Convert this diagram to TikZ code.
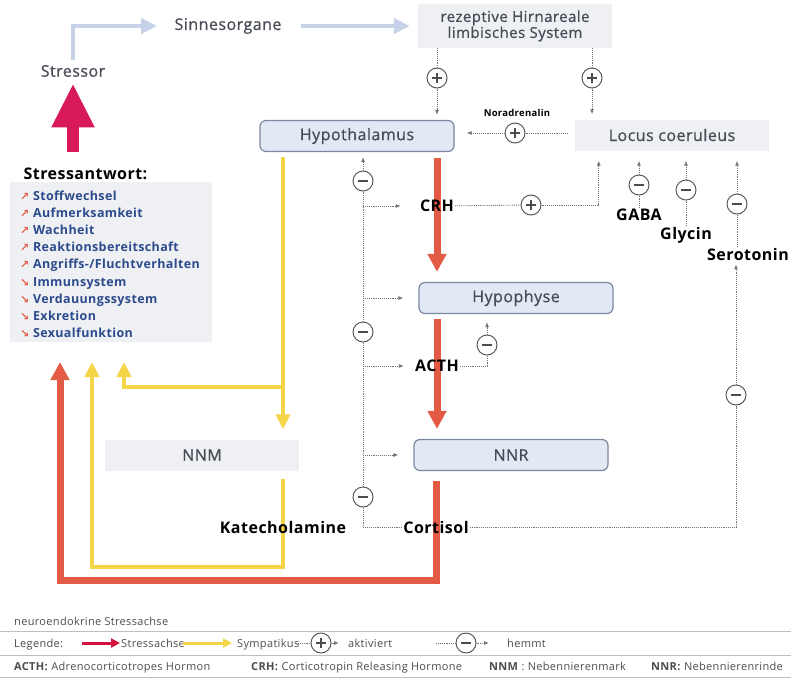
\documentclass[tikz,border=0pt]{standalone}
\usepackage{fontspec}
\setmainfont{Open Sans}[LetterSpace=3]
\newfontfamily\medfont{Open Sans}[LetterSpace=3,FakeBold=0.8]
\newfontfamily\symfont{DejaVu Sans}
\usetikzlibrary{positioning,arrows.meta,calc}

\definecolor{axisred}{HTML}{E35B45}
\definecolor{legendred}{HTML}{D3123E}
\definecolor{sympyellow}{HTML}{F5D548}
\definecolor{stressmag}{HTML}{D81A5C}
\definecolor{senseblue}{HTML}{C6D1E7}
\definecolor{boxblue}{HTML}{E3E9F4}
\definecolor{boxline}{HTML}{7A879E}
\definecolor{areagray}{HTML}{EFF0F4}
\definecolor{listblue}{HTML}{2C4B8C}
\definecolor{txtgray}{HTML}{474C56}

\newcommand{\riseicon}{{\symfont\bfseries\color{axisred}\fontsize{11}{11}\selectfont ↗}}
\newcommand{\fallicon}{{\symfont\bfseries\color{axisred}\fontsize{11}{11}\selectfont ↘}}

\tikzstyle{organ}=[draw=boxline,fill=boxblue,rounded corners=6pt,line width=1.2pt,minimum width=194pt,minimum height=31pt,text=txtgray,font=\medfont\fontsize{16}{18}\selectfont]
\tikzstyle{area}=[fill=areagray,minimum width=194pt,minimum height=31pt,text=txtgray,font=\medfont\fontsize{16}{18}\selectfont]
\tikzstyle{plain}=[text=txtgray,font=\medfont\fontsize{16}{18}\selectfont]
\tikzstyle{hormone}=[font=\bfseries\fontsize{16}{18}\selectfont,inner sep=1pt]
\tikzstyle{effect}=[anchor=base west,text=listblue,font=\bfseries\fontsize{12.5}{14}\selectfont,inner sep=0pt]
\tikzstyle{legend}=[anchor=base west,text=black!70,font=\fontsize{11}{13}\selectfont,inner sep=0pt]
\tikzstyle{sign}=[circle,draw=black!65,line width=1pt,fill=white,minimum size=20pt,inner sep=0pt]
\tikzstyle{plus}=[sign,path picture={\draw[line width=1.4pt,black!70] (path picture bounding box.center) +(-5pt,0) -- +(5pt,0) +(0,-5pt) -- +(0,5pt);}]
\tikzstyle{minus}=[sign,path picture={\draw[line width=1.6pt,black!70] (path picture bounding box.center) +(-5pt,0) -- +(5pt,0);}]
\tikzstyle{dot}=[draw=black!55,densely dotted,line width=0.9pt]
\tikzstyle{dotarrow}=[dot,-{Latex[length=5pt,width=4pt]}]
\tikzstyle{axis}=[draw=axisred,line width=7pt,-{Triangle[length=18pt,width=18pt]}]
\tikzstyle{symp}=[draw=sympyellow,line width=4.5pt,-{Triangle[length=15pt,width=14pt]}]
\tikzstyle{sense}=[draw=senseblue,line width=4.5pt,-{Triangle[length=16pt,width=15pt]}]
\tikzstyle{stress}=[draw=stressmag,line width=12pt,-{Triangle[length=44pt,width=40pt]}]

\pgfdeclarelayer{background}
\pgfsetlayers{background,main}

\begin{document}
\begin{tikzpicture}[x=1pt,y=-1pt]
  \useasboundingbox (0,0) rectangle (791,680);

  % Sinnesbahn
  \node[plain] (stressor) at (73,71) {Stressor};
  \node[plain] (sinne) at (228,26) {Sinnesorgane};
  \node[area,minimum height=44pt,align=center,font=\medfont\fontsize{15}{16}\selectfont] (rez) at (515,26) {rezeptive Hirnareale\\limbisches System};

  % Organe
  \foreach \pos / \name / \txt in {{(357,136)/hypo/Hypothalamus}, {(516,298)/hyp/Hypophyse}, {(511,455)/nnr/NNR}}
    \node[organ] (\name) at \pos {\txt};
  \node[area] (locus) at (672,135) {Locus coeruleus};
  \node[area] (nnm) at (202,455) {NNM};

  % Botenstoffe
  \foreach \pos / \name / \txt in {{(437,206)/crh/CRH}, {(437,366)/acth/ACTH}, {(436,527)/cort/Cortisol},
                                   {(283,527)/kat/Katecholamine}, {(639,215)/gaba/GABA},
                                   {(686,235)/glyc/Glycin}, {(748,254)/sero/Serotonin}}
    \node[hormone] (\name) at \pos {\txt};
  \node[hormone,font=\bfseries\fontsize{9.5}{11}\selectfont] (nora) at (517,113) {Noradrenalin};

  % aktivierend / hemmend
  \foreach \pos / \name in {{(437,78)/pa}, {(592,78)/pb}, {(515,133)/pn}, {(531,205)/pc}}
    \node[plus] (\name) at \pos {};
  \foreach \pos / \name in {{(363,181)/mh}, {(363,332)/mm}, {(363,497)/mb}, {(487,345)/ma},
                            {(639,185)/mg}, {(686,190)/my}, {(737,204)/ms}, {(736,395)/mc}}
    \node[minus] (\name) at \pos {};

  % Stressantwort
  \node[anchor=west,font=\bfseries\fontsize{16}{18}\selectfont] (sahead) at (20,174) {Stressantwort:};
  \node[area,minimum width=202pt,minimum height=160pt] (antwort) at (111,262) {};
  \foreach \txt [count=\i from 0] in {Stoffwechsel, Aufmerksamkeit, Wachheit, Reaktionsbereitschaft, Angriffs-/Fluchtverhalten}
    \node[effect] (up\i) at (20,{200.5+17.1*\i}) {\riseicon\ \txt};
  \foreach \txt [count=\i from 5] in {Immunsystem, Verdauungssystem, Exkretion, Sexualfunktion}
    \node[effect] (dn\i) at (20,{200.5+17.1*\i}) {\fallicon\ \txt};
  \coordinate (in1) at (60,362);
  \coordinate (in2) at (92,362);
  \coordinate (in3) at (124,362);

  % Achsen
  \begin{pgfonlayer}{background}
    \draw[sense,shorten <=2pt,shorten >=14pt] (stressor.north) |- (sinne.west);
    \draw[sense,shorten <=16pt,shorten >=8pt] (sinne.east) -- (rez.west);
    \draw[stress,shorten <=13pt,shorten >=3pt] (stressor |- sahead.north) -- (stressor.south);
    \draw[axis,shorten <=6pt,shorten >=10pt] (crh |- hypo.south) -- (crh |- hyp.north);
    \draw[axis,shorten <=5pt,shorten >=10pt] (acth |- hyp.south) -- (acth |- nnr.north);
    \draw[axis,shorten <=10pt] (cort |- nnr.south) -- (cort |- 0,580) -| (in1);
    \draw[symp,shorten <=5pt,shorten >=10pt] (kat |- hypo.south) -- (kat |- nnm.north);
    \draw[symp] (kat |- 0,387) -| (in3);
    \draw[symp,shorten <=8pt] (kat |- nnm.south) -- (kat |- 0,567) -| (in2);
  \end{pgfonlayer}

  % Verbindungen oben
  \draw[dot] (rez.south -| pa) -- (pa);
  \draw[dotarrow,shorten >=5pt] (pa) -- (pa |- hypo.north);
  \draw[dot] (rez.south -| pb) -- (pb);
  \draw[dotarrow,shorten >=5pt] (pb) -- (pb |- locus.north);
  \draw[dot,shorten <=7pt] (pn -| locus.west) -- (pn);
  \draw[dotarrow,shorten >=12pt] (pn) -- (pn -| hypo.east);
  \draw[dot] (crh) -- (pc);
  \draw[dotarrow,shorten >=10pt] (pc) -| ([xshift=24pt]locus.south west);
  \draw[dot] (gaba) -- (mg);
  \draw[dotarrow,shorten >=10pt] (mg) -- (mg |- locus.south);
  \draw[dot] (glyc) -- (my);
  \draw[dotarrow,shorten >=10pt] (my) -- (my |- locus.south);
  \draw[dot] (sero.north -| ms) -- (ms);
  \draw[dotarrow,shorten >=10pt] (ms) -- (ms |- locus.south);
  \draw[dot] (cort) -| (mc);
  \draw[dotarrow,shorten >=3pt] (mc) -- (mc |- sero.south);

  % Rueckkopplung
  \draw[dot] (cort) -| (mb);
  \draw[dot] (mb) -- (mm) -- (mh);
  \draw[dotarrow,shorten >=5pt] (mh) -- (mh |- hypo.south);
  \foreach \t / \s in {crh/18pt, hyp/15pt, acth/10pt, nnr/15pt}
    \draw[dotarrow,shorten >=\s] (mh |- \t) -- (\t.west);
  \draw[dot] (acth) -| (ma);
  \draw[dotarrow,shorten >=8pt] (ma) -- (ma |- hyp.south);

  % Legende
  \draw[black!25] (0,631) -- (791,631) (0,655) -- (791,655) (0,677) -- (791,677);
  \node[legend] (lgname) at (14,625) {neuroendokrine Stressachse};
  \node[legend] (lgkey) at (14,647) {Legende:};
  \coordinate (lr1) at (82,643);
  \coordinate (lr2) at (120,643);
  \draw[draw=legendred,line width=3pt,-{Triangle[length=9pt,width=9pt]}] (lr1) -- (lr2);
  \node[legend] (lgaxis) at (121,647) {Stressachse};
  \coordinate (ly1) at (183,643);
  \coordinate (ly2) at (232,643);
  \draw[draw=sympyellow,line width=3pt,-{Triangle[length=9pt,width=9pt]}] (ly1) -- (ly2);
  \node[legend] (lgsymp) at (237,647) {Sympatikus};
  \coordinate (la1) at (296,643);
  \node[plus] (lp) at (321,643) {};
  \coordinate (la2) at (339,643);
  \draw[dot] (la1) -- (lp);
  \draw[dotarrow] (lp) -- (la2);
  \node[legend] (lgplus) at (348,647) {aktiviert};
  \coordinate (lm1) at (436,643);
  \node[minus] (lm) at (466,643) {};
  \coordinate (lm2) at (489,643);
  \draw[dot] (lm1) -- (lm);
  \draw[dotarrow] (lm) -- (lm2);
  \node[legend] (lgminus) at (507,647) {hemmt};
  \node[legend] (ab1) at (14,670) {\textbf{ACTH:} Adrenocorticotropes Hormon};
  \node[legend] (ab2) at (251,670) {\textbf{CRH:} Corticotropin Releasing Hormone};
  \node[legend] (ab3) at (489,670) {\textbf{NNM} : Nebennierenmark};
  \node[legend] (ab4) at (651,670) {\textbf{NNR:} Nebennierenrinde};
\end{tikzpicture}
\end{document}
